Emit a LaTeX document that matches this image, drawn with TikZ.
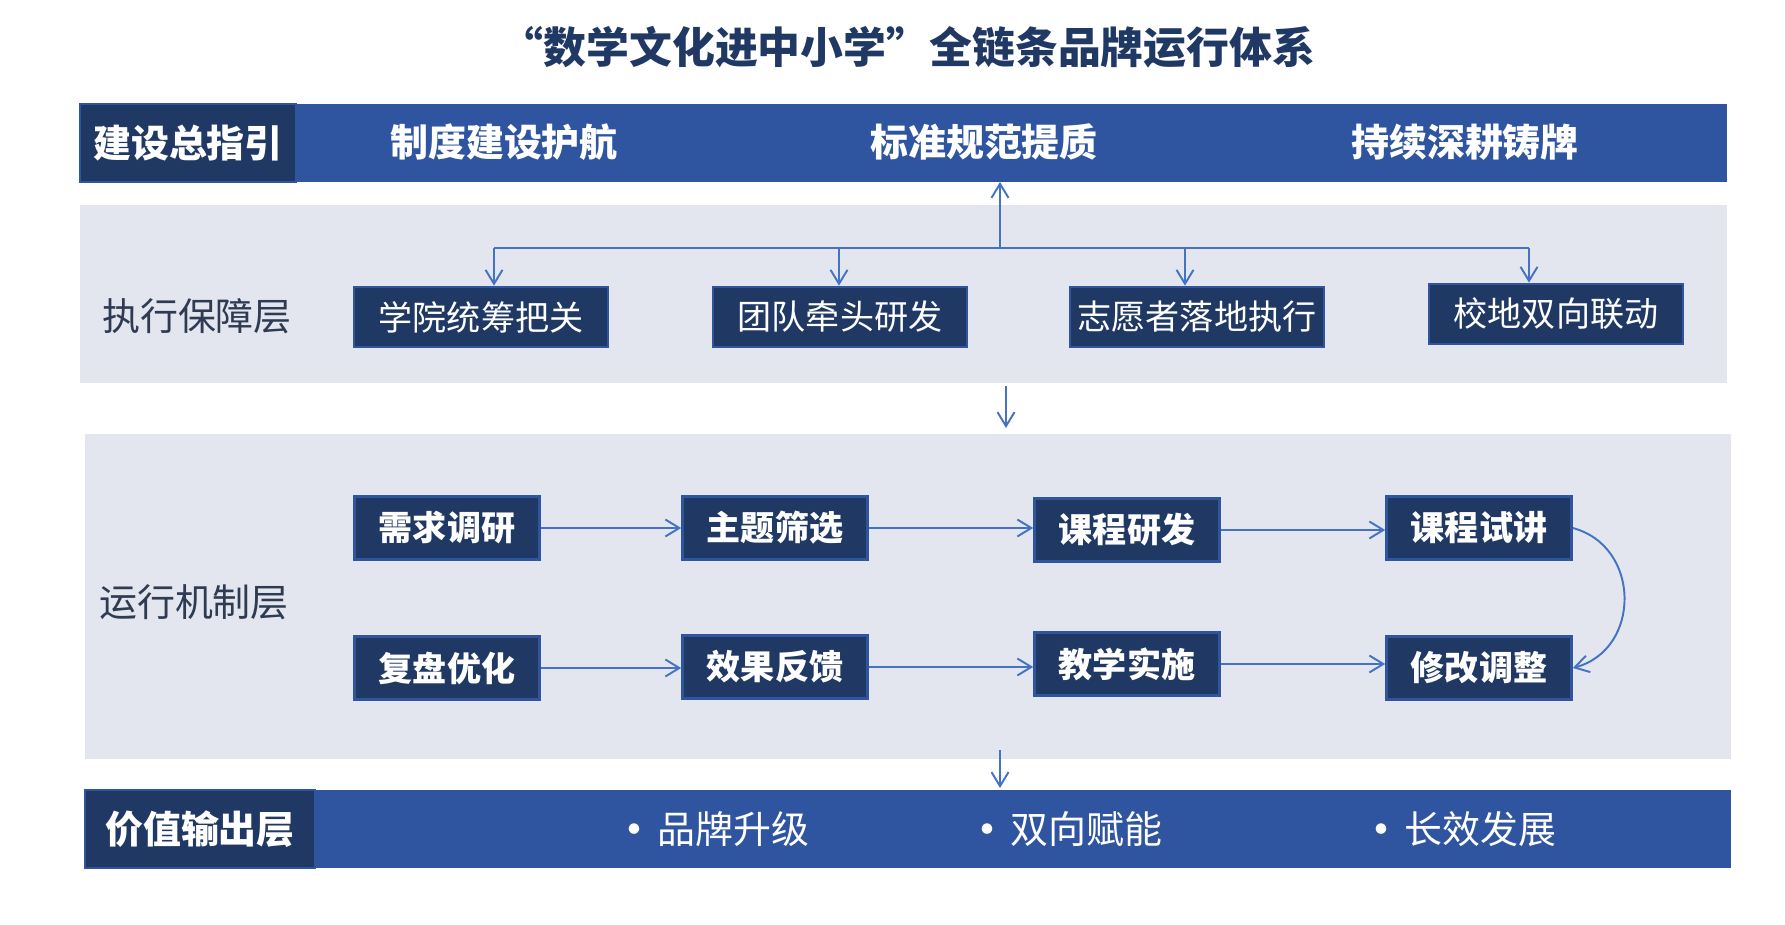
\documentclass[tikz,border=0pt]{standalone}
\usepackage{fontspec}
\setmainfont{Noto Sans CJK SC}
\usetikzlibrary{arrows.meta,positioning,calc}
\definecolor{barblue}{HTML}{2F54A0}
\definecolor{navy}{HTML}{203864}
\definecolor{bandgray}{HTML}{E3E6EE}
\definecolor{lineblue}{HTML}{4472C4}
\definecolor{labeltext}{HTML}{2E3B52}

\begin{document}
\begin{tikzpicture}[x=0.02cm,y=-0.02cm,>={Straight Barb[length=0.28cm,width=0.34cm]},
  wire/.style={draw=lineblue,line width=1.1pt},
  link/.style={wire,->},
  strip/.style={fill=#1,inner sep=0pt,outer sep=0pt,anchor=north west},
  tag/.style={draw=barblue,line width=1.6pt,fill=navy,text=white,inner sep=0pt,minimum height=1.56cm,font=\bfseries\fontsize{21.6}{22}\selectfont},
  bartext/.style={text=white,font=\bfseries\fontsize{21.6}{22}\selectfont},
  layer/.style={text=labeltext,font=\fontsize{21.6}{22}\selectfont},
  duty/.style={draw=barblue,line width=1.5pt,fill=navy,text=white,inner sep=0pt,minimum width=5.08cm,minimum height=1.2cm,font=\fontsize{19.4}{20}\selectfont},
  stepbox/.style={draw=barblue,line width=1.5pt,fill=navy,text=white,inner sep=0pt,minimum width=3.7cm,minimum height=1.26cm,font=\bfseries\fontsize{19.4}{20}\selectfont},
  bullet/.style={text=white,anchor=west,inner sep=0pt,font=\fontsize{21.6}{22}\selectfont}]
\useasboundingbox (0,0) rectangle (1785,925);

% title
\node[text=navy,font=\bfseries\fontsize{24.4}{25}\selectfont] (title) at (908,47) {“数学文化进中小学”全链条品牌运行体系};

% bands
\node[strip=barblue,minimum width=32.94cm,minimum height=1.56cm] (guidebar) at (80,104) {};
\node[strip=bandgray,minimum width=32.94cm,minimum height=3.56cm] (execband) at (80,205) {};
\node[strip=bandgray,minimum width=32.92cm,minimum height=6.5cm] (runband) at (85,434) {};
\node[strip=barblue,minimum width=32.92cm,minimum height=1.56cm] (valuebar) at (85,790) {};

% guide layer
\node[tag,minimum width=4.32cm] (guide) at (188,143) {建设总指引};
\node[bartext] (system) at (504,142) {制度建设护航};
\node[bartext] (standard) at (984,142) {标准规范提质};
\node[bartext] (forge) at (1465,142) {持续深耕铸牌};

% execution layer
\node[layer] (exec) at (197,316) {执行保障层};
\node[duty] (college) at (481,317) {学院统筹把关};
\node[duty] (team) at (840,317) {团队牵头研发};
\node[duty] (volunteer) at (1197,317) {志愿者落地执行};
\node[duty] (local) at (1556,314) {校地双向联动};
\coordinate (hub) at (1000,248);
\coordinate (b1) at (494,248); \coordinate (b2) at (839,248);
\coordinate (b3) at (1185,248); \coordinate (b4) at (1529,248);
\draw[link] (hub) -- (hub |- guidebar.south);
\draw[wire] (b1) -- (b4);
\draw[link] (b1) -- (b1 |- college.north);
\draw[link] (b2) -- (b2 |- team.north);
\draw[link] (b3) -- (b3 |- volunteer.north);
\draw[link] (b4) -- (b4 |- local.north);
\coordinate (d1) at (1006,386);
\draw[link] (d1) -- ([yshift=0.12cm]d1 |- runband.north);

% running layer
\node[layer] (run) at (194,602) {运行机制层};
\node[stepbox] (need) at (447,528) {需求调研};
\node[stepbox] (topic) at (775,528) {主题筛选};
\node[stepbox] (develop) at (1127,530) {课程研发};
\node[stepbox] (trial) at (1479,528) {课程试讲};
\node[stepbox] (review) at (447,668) {复盘优化};
\node[stepbox] (feedback) at (775,667) {效果反馈};
\node[stepbox] (teach) at (1127,664) {教学实施};
\node[stepbox] (revise) at (1479,668) {修改调整};
\draw[link] (need.east) -- (need.east -| topic.west);
\draw[link] (topic.east) -- (topic.east -| develop.west);
\draw[link] (develop.east) -- (develop.east -| trial.west);
\draw[link] (trial.east) to[out=-15,in=15,looseness=1.3] (revise.east);
\draw[link] (review.east) -- (review.east -| feedback.west);
\draw[link] (feedback.east) -- (feedback.east -| teach.west);
\draw[link] (teach.east) -- (teach.east -| revise.west);
\coordinate (d2) at (1000,750);
\draw[link] (d2) -- ([yshift=0.04cm]d2 |- valuebar.north);

% value layer
\node[tag,minimum width=4.6cm] (value) at (200,829) {价值输出层};
\node[bullet] (brand) at (615,829) {\textbf{·}\hspace{0.12em}品牌升级};
\node[bullet] (empower) at (968,829) {\textbf{·}\hspace{0.12em}双向赋能};
\node[bullet] (lasting) at (1362,829) {\textbf{·}\hspace{0.12em}长效发展};
\end{tikzpicture}
\end{document}
